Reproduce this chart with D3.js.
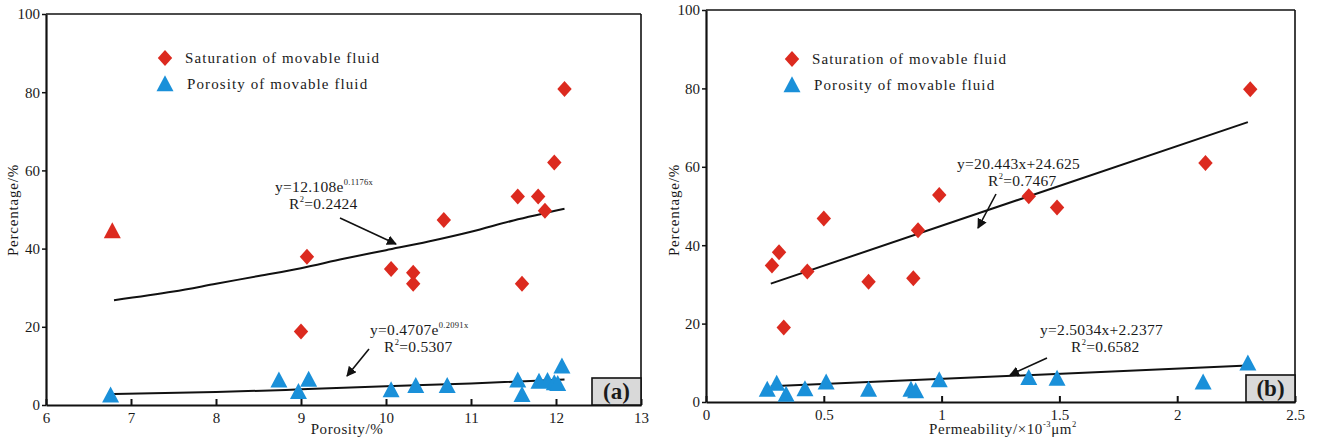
<!DOCTYPE html>
<html><head><meta charset="utf-8">
<script src="https://cdn.jsdelivr.net/npm/d3@7"></script>
<style>
html,body{margin:0;padding:0;background:#fff;}
text{font-family:"Liberation Serif","Times New Roman",serif;fill:#1a1a1a;}
</style></head>
<body><svg id="c" width="1317" height="441"></svg>
<script>
// ---------- data ----------
const yTicks = [0, 20, 40, 60, 80, 100];
const xTicksA = [6, 7, 8, 9, 10, 11, 12, 13];
const xTicksB = [0, 0.5, 1, 1.5, 2, 2.5];
const legendLabels = ["Saturation of movable fluid", "Porosity of movable fluid"];

// Panel (a): porosity (%) vs percentage
const satA_x = [6.78, 9.0, 9.07, 10.06, 10.32, 10.32, 10.68, 11.55, 11.6, 11.79, 11.87, 11.98, 12.1];
const satA_y = [44.5, 18.8, 37.9, 34.8, 33.8, 31.0, 47.3, 53.3, 31.0, 53.3, 49.7, 62.0, 80.8];
const porA_x = [6.76, 8.74, 8.97, 9.09, 10.06, 10.35, 10.72, 11.55, 11.6, 11.8, 11.9, 11.98, 12.02, 12.07];
const porA_y = [2.5, 6.3, 3.4, 6.5, 3.8, 4.9, 4.9, 6.3, 2.6, 6.0, 6.2, 5.6, 5.4, 9.9];
const trendSatA_x = [6.8, 7.5, 8.0, 8.5, 9.0, 9.5, 10.0, 10.5, 11.0, 11.5, 12.1];
const trendSatA_y = [26.8, 29.0, 31.0, 33.0, 35.0, 37.4, 39.6, 41.8, 44.3, 47.2, 50.2];
const trendPorA_x = [6.8, 8.0, 9.0, 10.0, 11.0, 12.1];
const trendPorA_y = [2.8, 3.3, 4.0, 4.8, 5.5, 6.5];

// Panel (b): permeability vs percentage
const satB_x = [0.28, 0.31, 0.33, 0.43, 0.50, 0.69, 0.88, 0.90, 0.99, 1.37, 1.49, 2.12, 2.31];
const satB_y = [34.8, 38.2, 19.0, 33.3, 46.8, 30.7, 31.6, 43.8, 52.8, 52.5, 49.6, 61.0, 79.8];
const porB_x = [0.26, 0.30, 0.34, 0.42, 0.51, 0.69, 0.87, 0.89, 0.99, 1.37, 1.49, 2.11, 2.30];
const porB_y = [3.2, 4.7, 1.9, 3.3, 5.0, 3.2, 3.2, 2.8, 5.6, 6.2, 6.0, 5.0, 9.9];
const trendSatB_x = [0.275, 2.30];
const trendSatB_y = [30.2, 71.4];
const trendPorB_x = [0.275, 2.30];
const trendPorB_y = [4.0, 9.3];

// ---------- drawing ----------
const svg = d3.select("#c");
const RED = "#dc2a1f", BLUE = "#1a90d9";

const defs = svg.append("defs");
defs.append("marker").attr("id","arr").attr("viewBox","0 0 10 10")
  .attr("refX",9).attr("refY",5).attr("markerWidth",10).attr("markerHeight",10)
  .attr("markerUnits","userSpaceOnUse").attr("orient","auto")
  .append("path").attr("d","M0,0 L10,5 L0,10 z").attr("fill","#111");

function diamond(g, cx, cy, fill){
  const r = 8;
  g.append("path").attr("d", `M${cx},${cy-r}L${cx+r*0.9},${cy}L${cx},${cy+r}L${cx-r*0.9},${cy}Z`).attr("fill", fill);
}
function triangle(g, cx, cy, fill){
  const w = 8.5, h = 16;
  g.append("path").attr("d", `M${cx},${cy-h*0.55}L${cx+w},${cy+h*0.45}L${cx-w},${cy+h*0.45}Z`).attr("fill", fill);
}

function sup(textSel, base, supTxt, size){
  textSel.append("tspan").text(base);
  textSel.append("tspan").text(supTxt).attr("font-size", size).attr("dy", -7);
}

function panel(cfg){
  const x = d3.scaleLinear().domain(cfg.xDomain).range(cfg.xRange);
  const y = d3.scaleLinear().domain([0,100]).range(cfg.yRange);
  const g = svg.append("g");

  // frame top/right
  g.append("line").attr("x1",x.range()[0]).attr("x2",x.range()[1]).attr("y1",y(100)).attr("y2",y(100)).attr("stroke","#111").attr("stroke-width",1.6);
  g.append("line").attr("x1",x.range()[1]).attr("x2",x.range()[1]).attr("y1",y(100)).attr("y2",y(0)).attr("stroke","#111").attr("stroke-width",1.6);

  // axes
  const ax = g.append("g").attr("transform",`translate(0,${y(0)})`)
    .call(d3.axisBottom(x).tickValues(cfg.xTicks).tickFormat(d=>String(d)).tickSizeInner(-6).tickSizeOuter(0).tickPadding(7));
  ax.select(".domain").attr("stroke","#111").attr("stroke-width",2.2);
  ax.selectAll(".tick line").attr("stroke","#111").attr("stroke-width",2);
  ax.selectAll(".tick text").attr("font-size",15).attr("font-family","Liberation Serif").attr("fill","#1a1a1a");

  const ay = g.append("g").attr("transform",`translate(${x.range()[0]},0)`)
    .call(d3.axisLeft(y).tickValues(yTicks).tickSizeInner(4).tickSizeOuter(0).tickPadding(2));
  ay.select(".domain").attr("stroke","#111").attr("stroke-width",2.2);
  ay.selectAll(".tick line").attr("stroke","#111").attr("stroke-width",1.5);
  ay.selectAll(".tick text").attr("font-size",15).attr("font-family","Liberation Serif").attr("fill","#1a1a1a");

  // axis titles
  const xt = g.append("text").attr("x",cfg.xTitleX).attr("y",434).attr("text-anchor","middle")
    .attr("font-size",15).attr("letter-spacing",0.6);
  cfg.xTitle(xt);
  g.append("text").attr("transform",`translate(${cfg.yTitleX},210) rotate(-90)`).attr("text-anchor","middle")
    .attr("font-size",15).attr("letter-spacing",0.8).text("Percentage/%");

  // trend lines
  const line = d3.line().x(d=>x(d[0])).y(d=>y(d[1])).curve(d3.curveMonotoneX);
  g.append("path").attr("d", line(d3.zip(cfg.tSx, cfg.tSy))).attr("fill","none").attr("stroke","#111").attr("stroke-width",2);
  g.append("path").attr("d", line(d3.zip(cfg.tPx, cfg.tPy))).attr("fill","none").attr("stroke","#111").attr("stroke-width",2);

  // points
  cfg.sx.forEach((v,i)=>{
    if (cfg.firstSatTriangle && i===0) triangle(g, x(v), y(cfg.sy[i]), RED);
    else diamond(g, x(v), y(cfg.sy[i]), RED);
  });
  cfg.px.forEach((v,i)=> triangle(g, x(v), y(cfg.py[i]), BLUE));

  // legend
  diamond(g, cfg.leg[0], cfg.leg[1], RED);
  triangle(g, cfg.leg[0], cfg.leg[1]+26, BLUE);
  g.append("text").attr("x",cfg.leg[0]+20).attr("y",cfg.leg[1]+5).attr("font-size",15).attr("letter-spacing",1.1).text(legendLabels[0]);
  g.append("text").attr("x",cfg.leg[0]+22).attr("y",cfg.leg[1]+31).attr("font-size",15).attr("letter-spacing",1.1).text(legendLabels[1]);

  // equations
  cfg.eqs.forEach(e=>{
    const t1 = g.append("text").attr("x",e.x1).attr("y",e.y1).attr("font-size",15.5).attr("letter-spacing",0.3);
    if (e.sup) sup(t1, e.base, e.sup, 8.5); else t1.text(e.base);
    const t2 = g.append("text").attr("x",e.x2).attr("y",e.y1+17).attr("font-size",15.5).attr("letter-spacing",0.3);
    t2.append("tspan").text("R");
    t2.append("tspan").text("2").attr("font-size",8.5).attr("dy",-7);
    t2.append("tspan").text("=" + e.r2).attr("dy",7);
    g.append("line").attr("x1",e.a[0]).attr("y1",e.a[1]).attr("x2",e.a[2]).attr("y2",e.a[3])
      .attr("stroke","#111").attr("stroke-width",1.6).attr("marker-end","url(#arr)");
  });

  // label box
  const bx = x.range()[1] - 49, by = y(0) - 27;
  g.append("rect").attr("x",bx).attr("y",by).attr("width",49).attr("height",27)
    .attr("fill","#d9d9d9").attr("stroke","#111").attr("stroke-width",1.6);
  g.append("text").attr("x",bx+24.5).attr("y",by+21).attr("text-anchor","middle")
    .attr("font-size",23).attr("font-weight","bold").text(cfg.tag);
}

panel({
  xDomain:[6,13], xRange:[46,641], yRange:[405,14], xTicks:xTicksA,
  xTitleX:347, yTitleX:18,
  xTitle: t => t.text("Porosity/%"),
  tSx:trendSatA_x, tSy:trendSatA_y, tPx:trendPorA_x, tPy:trendPorA_y,
  sx:satA_x, sy:satA_y, px:porA_x, py:porA_y, firstSatTriangle:true,
  leg:[165,58],
  eqs:[
    {x1:275, y1:192, base:"y=12.108e", sup:"0.1176x", x2:289, r2:"0.2424", a:[340,218,396,244]},
    {x1:370, y1:335, base:"y=0.4707e", sup:"0.2091x", x2:384, r2:"0.5307", a:[369,349,347,376]}
  ],
  tag:"(a)"
});

panel({
  xDomain:[0,2.5], xRange:[706,1295], yRange:[402,10], xTicks:xTicksB,
  xTitleX:1003, yTitleX:679,
  xTitle: t => {
    t.append("tspan").text("Permeability/×10");
    t.append("tspan").text("-3").attr("font-size",8.5).attr("dy",-7);
    t.append("tspan").text("μm").attr("dy",7);
    t.append("tspan").text("2").attr("font-size",8.5).attr("dy",-7);
  },
  tSx:trendSatB_x, tSy:trendSatB_y, tPx:trendPorB_x, tPy:trendPorB_y,
  sx:satB_x, sy:satB_y, px:porB_x, py:porB_y, firstSatTriangle:false,
  leg:[792,59],
  eqs:[
    {x1:957, y1:169, base:"y=20.443x+24.625", sup:null, x2:988, r2:"0.7467", a:[996,194,978,228]},
    {x1:1040, y1:335, base:"y=2.5034x+2.2377", sup:null, x2:1071, r2:"0.6582", a:[1047,358,1010,375]}
  ],
  tag:"(b)"
});
</script></body></html>
